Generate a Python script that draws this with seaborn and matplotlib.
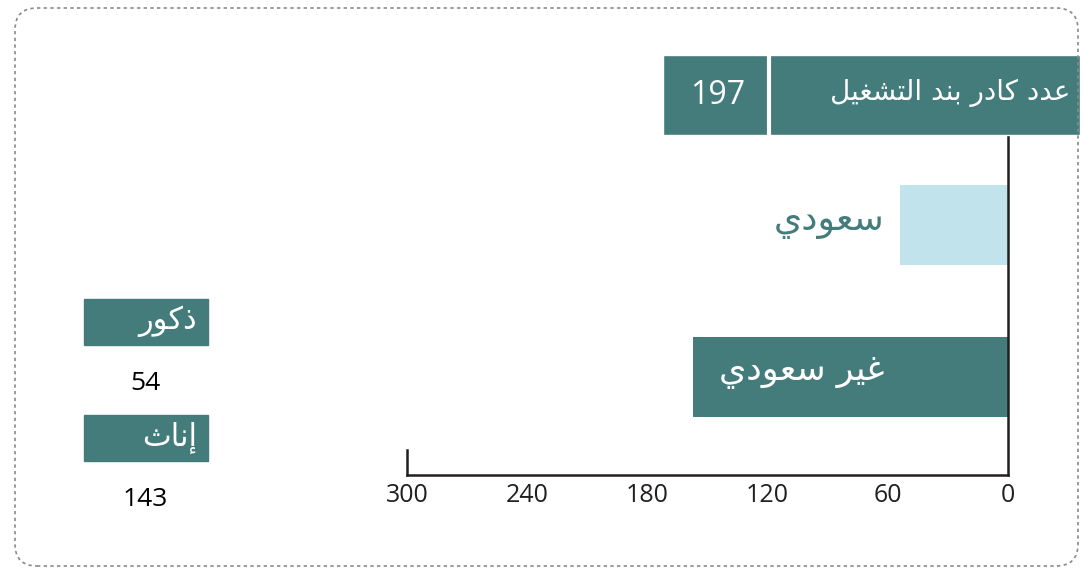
import numpy as np
import pandas as pd
import matplotlib
matplotlib.use('Agg')
import matplotlib.pyplot as plt
from matplotlib.patches import FancyBboxPatch, Rectangle
from matplotlib.transforms import IdentityTransform
import seaborn as sns

W, H = 1084, 570
TEAL = '#437c7b'
LIGHT = '#c1e3ec'
INK = '#231f20'

# data
header_label = 'عدد كادر بند التشغيل'
header_total = '197'
header_bar = 172
categories = ['سعودي', 'غير سعودي']
values = [54, 157]
ticks = [0, 60, 120, 180, 240, 300]
legend_labels = ['ذكور', 'إناث']
legend_values = ['54', '143']

# layout (y in pixel rows from top)
header_y = 95
bar_y = [224.5, 377]
BAR_H = 80
OVERHANG = 36

# tiny arabic shaper: (isolated, final, initial, medial)
FORMS = {
    'ا': ('\ufe8d', '\ufe8e', None, None),
    'إ': ('\ufe87', '\ufe88', None, None),
    'ب': ('\ufe8f', '\ufe90', '\ufe91', '\ufe92'),
    'ت': ('\ufe95', '\ufe96', '\ufe97', '\ufe98'),
    'ث': ('\ufe99', '\ufe9a', '\ufe9b', '\ufe9c'),
    'د': ('\ufea9', '\ufeaa', None, None),
    'ذ': ('\ufeab', '\ufeac', None, None),
    'ر': ('\ufead', '\ufeae', None, None),
    'س': ('\ufeb1', '\ufeb2', '\ufeb3', '\ufeb4'),
    'ش': ('\ufeb5', '\ufeb6', '\ufeb7', '\ufeb8'),
    'ع': ('\ufec9', '\ufeca', '\ufecb', '\ufecc'),
    'غ': ('\ufecd', '\ufece', '\ufecf', '\ufed0'),
    'ك': ('\ufed9', '\ufeda', '\ufedb', '\ufedc'),
    'ل': ('\ufedd', '\ufede', '\ufedf', '\ufee0'),
    'ن': ('\ufee5', '\ufee6', '\ufee7', '\ufee8'),
    'و': ('\ufeed', '\ufeee', None, None),
    'ي': ('\ufef1', '\ufef2', '\ufef3', '\ufef4'),
}


def shape(text):
    out = []
    for i, ch in enumerate(text):
        if ch not in FORMS:
            out.append(ch)
            continue
        prev = text[i - 1] if i > 0 else ''
        nxt = text[i + 1] if i + 1 < len(text) else ''
        jp = prev in FORMS and FORMS[prev][2] is not None
        jn = nxt in FORMS and FORMS[ch][2] is not None
        f = FORMS[ch]
        if jp and jn:
            out.append(f[3])
        elif jp:
            out.append(f[1])
        elif jn:
            out.append(f[2])
        else:
            out.append(f[0])
    return ''.join(reversed(out))


sns.set_style('white')
AR = ['DejaVu Sans']
NUM = ['Open Sans', 'DejaVu Sans']
plt.rcParams['font.family'] = NUM

fig = plt.figure(figsize=(W / 100, H / 100), dpi=100)
ax = fig.add_axes([407 / W, (H - 475) / H, 601 / W, 420 / H])

df = pd.DataFrame({'cat': categories, 'val': values, 'pos': bar_y})
sns.barplot(data=df, x='val', y='pos', hue='cat', orient='h', native_scale=True,
            palette={categories[0]: LIGHT, categories[1]: TEAL},
            width=BAR_H / (bar_y[1] - bar_y[0]), legend=False, ax=ax,
            saturation=1, linewidth=0)

ax.barh(header_y, header_bar + OVERHANG, left=-OVERHANG, height=BAR_H,
        color=TEAL, clip_on=False, zorder=3)
ax.vlines(119.5, header_y - BAR_H / 2, header_y + BAR_H / 2, color='white', lw=3, zorder=4)

ax.set_xlim(300, 0)
ax.set_ylim(475, 55)
ax.set_xlabel('')
ax.set_ylabel('')
ax.set_yticks([])
ax.set_xticks(ticks)
ax.set_xticklabels([str(t) for t in ticks])
ax.tick_params(axis='x', direction='in', length=11, width=1.8, color=INK,
               labelsize=18, labelcolor=INK, pad=6)
ax.spines['top'].set_visible(False)
for s in ['left', 'right', 'bottom']:
    ax.spines[s].set_linewidth(1.8)
    ax.spines[s].set_color(INK)
ax.spines['right'].set_bounds(135, 475)
ax.spines['left'].set_bounds(450, 475)
ax.patch.set_alpha(0)

ax.text(145, header_y, header_total, color='white', fontsize=23, ha='center',
        va='center', family=NUM, zorder=5)
ax.text(-31, header_y - 2, shape(header_label), color='white', fontsize=20,
        ha='right', va='center', family=AR, zorder=5)
ax.text(61.5, 222, shape(categories[0]), color=TEAL, fontsize=26,
        ha='right', va='center', family=AR)
ax.text(61.5, 372, shape(categories[1]), color='white', fontsize=25,
        ha='right', va='center', family=AR)

# legend boxes on the left
for i, (lab, v) in enumerate(zip(legend_labels, legend_values)):
    top = 299 + i * 116
    fig.patches.append(Rectangle((84, H - top - 46), 124, 46, color=TEAL,
                                 transform=IdentityTransform(), figure=fig))
    fig.text(197 / W, 1 - (top + 22) / H, shape(lab), color='white', fontsize=22,
             ha='right', va='center', family=AR)
    fig.text(145 / W, 1 - (top + 84) / H, v, color='black', fontsize=19,
             ha='center', va='center', family=NUM)

border = FancyBboxPatch((15, 4), 1063, 558, boxstyle='round,pad=0,rounding_size=22',
                        fill=False, ec='#8a8a8a', lw=1.2, ls=(0, (2, 2)),
                        transform=IdentityTransform(), figure=fig)
fig.patches.append(border)

fig.savefig('out.png', dpi=100)
